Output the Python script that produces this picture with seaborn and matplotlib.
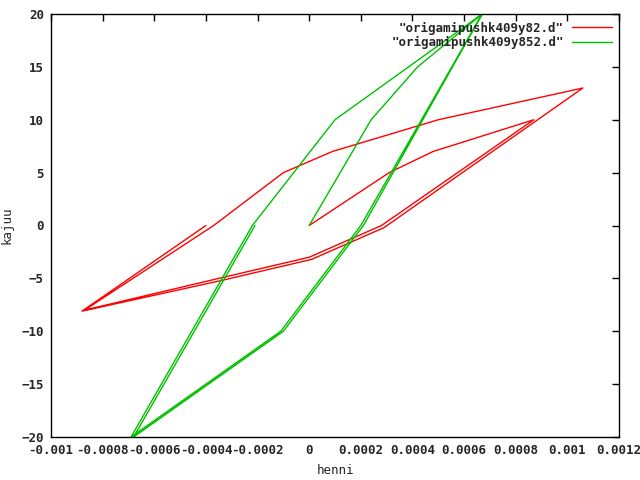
import pandas as pd
import numpy as np
import seaborn as sns
import matplotlib
matplotlib.use('Agg')
import matplotlib.pyplot as plt

# hysteresis paths (cycle order kept)
red_henni = [0, 0.00031, 0.00048, 0.00087, 0.00028, 0.0, -0.00035, -0.00087,
             -0.00037, -0.0001, 0.00009, 0.0005, 0.00106,
             0.00029, 0.00001, -0.00034, -0.00088, -0.0004]
red_kajuu = [0, 5, 7, 10, 0, -3, -5, -8,
             0, 5, 7, 10, 13,
             -0.2, -3.2, -5.2, -8.1, 0]

green_henni = [0, 0.00024, 0.00042, 0.00067, 0.0002, -0.00011, -0.0004, -0.00069,
               -0.00022, 0.0001, 0.00067, 0.00021, -0.0001, -0.00039, -0.00068, -0.00021]
green_kajuu = [0, 10, 15, 20, 0, -10, -15, -20,
               0, 10, 20, 0, -10, -15, -20, 0]

x_ticks = [-0.001, -0.0008, -0.0006, -0.0004, -0.0002, 0, 0.0002, 0.0004, 0.0006, 0.0008, 0.001, 0.0012]
x_labels = ['-0.001', '-0.0008', '-0.0006', '-0.0004', '-0.0002', '0',
            '0.0002', '0.0004', '0.0006', '0.0008', '0.001', '0.0012']
y_ticks = [-20, -15, -10, -5, 0, 5, 10, 15, 20]

sns.set_style('white')
plt.rcParams['font.family'] = ['DejaVu Sans Mono']
plt.rcParams['font.weight'] = 'bold'
plt.rcParams['font.size'] = 9

fig = plt.figure(figsize=(6.4, 4.8), dpi=100)
ax = fig.add_axes([51 / 640, 1 - 437 / 480, 568 / 640, 423 / 480])

red = pd.DataFrame({'henni': red_henni, 'kajuu': red_kajuu})
green = pd.DataFrame({'henni': green_henni, 'kajuu': green_kajuu})

sns.lineplot(data=red, x='henni', y='kajuu', sort=False, estimator=None,
             color='#ff0000', linewidth=1, label='"origamipushk409y82.d"', ax=ax)
sns.lineplot(data=green, x='henni', y='kajuu', sort=False, estimator=None,
             color='#00c000', linewidth=1, label='"origamipushk409y852.d"', ax=ax)

ax.set_xlim(-0.001, 0.0012)
ax.set_ylim(-20, 20)
ax.set_xticks(x_ticks)
ax.set_xticklabels(x_labels)
ax.set_yticks(y_ticks)
ax.tick_params(direction='in', top=True, right=True, length=5, width=1, color='black', pad=5)
for s in ax.spines.values():
    s.set_color('black')
    s.set_linewidth(1)

ax.set_xlabel('henni', labelpad=5)
ax.set_ylabel('kajuu', labelpad=6)

ax.legend(loc='upper right', frameon=False, markerfirst=False, handlelength=3.2,
          borderaxespad=0.2, labelspacing=0.1, handletextpad=0.6)

fig.savefig('out.png', dpi=100)
